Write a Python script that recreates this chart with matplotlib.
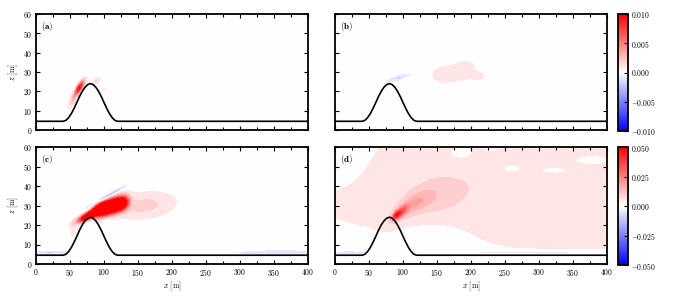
import numpy as np
import matplotlib
matplotlib.use("Agg")
import matplotlib.pyplot as plt
from matplotlib.colors import Normalize
from matplotlib.cm import ScalarMappable
from matplotlib.ticker import MultipleLocator

plt.rcParams['font.family'] = 'serif'
plt.rcParams['font.serif'] = ['cmr10', 'DejaVu Serif']
plt.rcParams['mathtext.fontset'] = 'cm'
plt.rcParams['axes.formatter.use_mathtext'] = True
plt.rcParams['font.size'] = 5.5

# terrain profile (x [m], z [m])
hill_x = [0, 40, 44, 48, 52, 56, 60, 64, 68, 72, 76, 80,
          84, 88, 92, 96, 100, 104, 108, 112, 116, 120, 400]
hill_z = [4.5, 4.5, 5.0, 6.4, 8.5, 11.2, 14.2, 17.3, 20.0, 22.1, 23.5, 24.0,
          23.5, 22.1, 20.0, 17.3, 14.2, 11.2, 8.5, 6.4, 5.0, 4.5, 4.5]

# field patches: (x0, z0, sigma_along, sigma_across, angle_deg, amplitude, power)
blobs_a = [(64, 22, 5, 1.3, 25, 0.009, 2),
           (55, 16, 5, 1.5, 30, 0.0025, 2),
           (89, 25.5, 3.5, 0.9, 12, 0.0015, 2),
           (100, 21, 1.2, 0.7, 0, 0.0008, 2),
           (100, 24, 1.2, 0.6, 0, -0.0008, 2)]
blobs_b = [(93, 27, 13, 1.0, 6, -0.0014, 2),
           (94, 26.5, 2.5, 0.6, 0, -0.001, 2),
           (178, 29.5, 22, 3.0, 0, 0.0011, 2),
           (192, 33.5, 8, 1.6, 0, 0.0007, 2),
           (158, 27.5, 9, 2.2, 0, 0.0006, 2),
           (212, 27.5, 6, 1.4, 0, 0.0006, 2)]
blobs_c = [(110, 29.5, 20, 2.4, 6, 0.1, 4),
           (80, 25.3, 12, 1.2, 10, 0.08, 2),
           (158, 30, 30, 4.2, 2, 0.009, 2),
           (103, 34.3, 17, 0.9, 11, -0.02, 2),
           (104, 22.5, 4, 0.8, 0, -0.005, 2),
           (55, 17, 3, 3, 0, 0.004, 2),
           (20, 5.8, 20, 1.0, 0, -0.008, 2),
           (15, 7.4, 10, 0.5, 0, 0.004, 2),
           (360, 5.8, 45, 1.0, 0, -0.007, 2)]
blobs_d = [(400, 35, 310, 20, 0, 0.0064, 2),
           (170, 54, 90, 12, 0, 0.0028, 2),
           (140, 32, 30, 5.5, 4, 0.006, 2),
           (113, 30, 20, 3.5, 12, 0.01, 2),
           (95, 26, 8, 1.6, 15, 0.03, 2),
           (90, 25, 3.5, 1.1, 15, 0.02, 2),
           (20, 5.8, 20, 0.8, 0, -0.006, 2),
           (270, 5.8, 130, 0.8, 0, -0.006, 2)]
# multiplicative gaps in the (d) field: (x0, z0, sx, sz, depth)
holes_d = [(140, 8, 45, 10, 0.9),
           (186, 57, 16, 3, 0.9),
           (260, 49, 14, 2, 0.9),
           (322, 48, 18, 1.6, 0.9),
           (378, 53, 20, 2, 0.9),
           (230, 59, 8, 1.5, 0.9),
           (5, 58, 35, 12, 0.9)]

panels = ['(a)', '(b)', '(c)', '(d)']
vmax_top = 0.01
vmax_bot = 0.05
cb_ticks_top = [-0.01, -0.005, 0.0, 0.005, 0.01]
cb_ticks_bot = [-0.05, -0.025, 0.0, 0.025, 0.05]

x = np.linspace(0, 400, 401)
z = np.linspace(0, 60, 241)
X, Z = np.meshgrid(x, z)


def build_field(blobs, holes=()):
    f = np.zeros_like(X)
    for x0, z0, su, sv, ang, amp, p in blobs:
        a = np.deg2rad(ang)
        dx = X - x0
        dz = Z - z0
        u = dx * np.cos(a) + dz * np.sin(a)
        v = -dx * np.sin(a) + dz * np.cos(a)
        f += amp * np.exp(-0.5 * (np.abs(u / su)**p + (v / sv)**2))
    for x0, z0, sx, sz, depth in holes:
        f *= 1 - depth * np.exp(-0.5 * (((X - x0) / sx)**2 + ((Z - z0) / sz)**2))
    return f


fig = plt.figure(figsize=(6.75, 2.97), dpi=100)
W, H = 675.0, 297.0
boxes = [(36, 14, 272, 116), (335, 14, 272, 116),
         (36, 147, 272, 117), (335, 147, 272, 117)]
fields = [build_field(blobs_a), build_field(blobs_b),
          build_field(blobs_c), build_field(blobs_d, holes_d)]

for i in range(4):
    l, t, w, h = boxes[i]
    ax = fig.add_axes([l / W, 1 - (t + h) / H, w / W, h / H])
    vmax = vmax_top if i < 2 else vmax_bot
    levels = np.linspace(-vmax, vmax, 22)
    ax.contourf(X, Z, fields[i], levels=levels, cmap='bwr', extend='both')
    ax.plot(hill_x, hill_z, color='black', lw=1.2)
    ax.set_xlim(0, 400)
    ax.set_ylim(0, 60)
    ax.xaxis.set_major_locator(MultipleLocator(50))
    ax.xaxis.set_minor_locator(MultipleLocator(25))
    ax.yaxis.set_major_locator(MultipleLocator(10))
    ax.tick_params(which='both', direction='in', top=True, right=True,
                   width=0.8, pad=2.5)
    ax.tick_params(which='major', length=3)
    ax.tick_params(which='minor', length=2.5)
    for s in ax.spines.values():
        s.set_linewidth(1.3)
    ax.text(0.02, 0.95, r'$\mathbf{' + panels[i] + '}$', transform=ax.transAxes,
            ha='left', va='top', fontsize=6.5)
    if i < 2:
        ax.set_xticklabels([])
    else:
        ax.set_xlabel(r'$x$ [m]', labelpad=0.5)
    if i % 2 == 1:
        ax.set_yticklabels([])
    else:
        ax.set_ylabel(r'$z$ [m]', labelpad=2)

    if i % 2 == 1:
        cax = fig.add_axes([618 / W, 1 - (t + h + 1) / H, 10 / W, (h + 1) / H])
        sm = ScalarMappable(norm=Normalize(-vmax, vmax), cmap='bwr')
        cb = fig.colorbar(sm, cax=cax)
        ticks = cb_ticks_top if i == 1 else cb_ticks_bot
        cb.set_ticks(ticks)
        cb.set_ticklabels(['$%.3f$' % v for v in ticks])
        cb.ax.tick_params(direction='in', length=3, width=0.8, pad=2.5)
        cb.outline.set_linewidth(1.3)

fig.savefig('out.png', dpi=100)
